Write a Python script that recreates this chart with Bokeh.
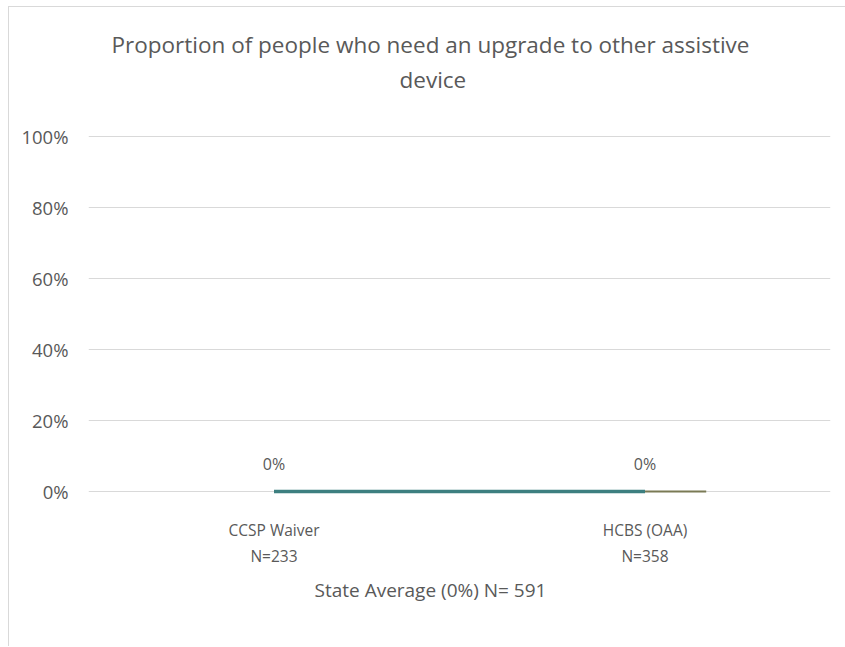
from bokeh.plotting import figure
from bokeh.models import Range1d, FixedTicker, NumeralTickFormatter, ColumnDataSource, LabelSet, Title
from bokeh.core.properties import value
from bokeh.embed import file_html
from bokeh.resources import INLINE

# data
categories = ["CCSP Waiver\nN=233", "HCBS (OAA)\nN=358"]
proportions = [0.0, 0.0]
value_labels = ["0%", "0%"]
state_average = 0.0
state_label = "State Average (0%) N= 591"
title_lines = ["Proportion of people who need an upgrade to other assistive", "device"]
y_ticks = [0, 0.2, 0.4, 0.6, 0.8, 1.0]

FONT = "Open Sans"
GRAY = "#595959"

xs = [i + 0.5 for i in range(len(categories))]

W, H = 837, 640
LEFT, RIGHT, TOP, BOTTOM = 79, 16, 128, 149

p = figure(width=W, height=H, output_backend="svg", toolbar_location=None,
           x_range=Range1d(0, len(categories)), y_range=Range1d(-0.02, 1.003),
           min_border_left=LEFT, min_border_right=RIGHT, min_border_top=TOP,
           min_border_bottom=BOTTOM)
p.styles = {"border-left": "1px solid #d9d9d9", "border-top": "1px solid #d9d9d9",
            "margin-left": "8px", "margin-top": "6px"}

p.outline_line_color = None
p.background_fill_color = "white"
p.border_fill_color = "white"

# blank spacer between the frame and the title (first added sits closest to the frame)
p.add_layout(Title(text=" ", align="left", standoff=24,
                   text_font=FONT, text_font_size="10px", text_color=GRAY), "above")
p.add_layout(Title(text=title_lines[1], align="left", offset=311, standoff=2,
                   text_font=FONT, text_font_size="22.5px", text_font_style="normal",
                   text_color=GRAY), "above")
p.add_layout(Title(text=title_lines[0], align="left", offset=23, standoff=2,
                   text_font=FONT, text_font_size="22.5px", text_font_style="normal",
                   text_color=GRAY), "above")

# y axis
p.yaxis.ticker = FixedTicker(ticks=y_ticks)
p.yaxis.formatter = NumeralTickFormatter(format="0%")
p.yaxis.axis_line_color = None
p.yaxis.major_tick_line_color = None
p.yaxis.minor_tick_line_color = None
p.yaxis.major_label_text_font = FONT
p.yaxis.major_label_text_font_size = "18.5px"
p.yaxis.major_label_text_color = GRAY
p.yaxis.major_label_standoff = 14

# x axis
p.xaxis.ticker = FixedTicker(ticks=xs)
p.xaxis.major_label_overrides = {x: c for x, c in zip(xs, categories)}
p.xaxis.axis_line_color = None
p.xaxis.major_tick_line_color = None
p.xaxis.minor_tick_line_color = None
p.xaxis.major_label_text_font = FONT
p.xaxis.major_label_text_font_size = "15.5px"
p.xaxis.major_label_text_color = GRAY
p.xaxis.major_label_standoff = 14

# state average caption
p.add_layout(Title(text=state_label, align="left", offset=226, standoff=10,
                   text_font=FONT, text_font_size="19px", text_font_style="normal",
                   text_color=GRAY), "below")

p.xgrid.grid_line_color = None
p.ygrid.ticker = FixedTicker(ticks=y_ticks)
p.ygrid.grid_line_color = "#d9d9d9"
p.ygrid.grid_line_width = 1

# state average reference segment
p.segment(x0=[xs[-1]], y0=[state_average], x1=[xs[-1] + 0.165], y1=[state_average],
          line_color="#7a7a55", line_width=2)

# series line
src = ColumnDataSource(dict(x=xs, y=proportions, lab=value_labels))
p.line("x", "y", source=src, line_color="#3d7f80", line_width=3.5)

labels = LabelSet(x="x", y="y", text="lab", source=src, text_align="center",
                  text_baseline="middle", y_offset=27, text_font=value(FONT),
                  text_font_size="16px", text_color=GRAY)
p.add_layout(labels)

open("out.html", "w").write(file_html(p, INLINE))
